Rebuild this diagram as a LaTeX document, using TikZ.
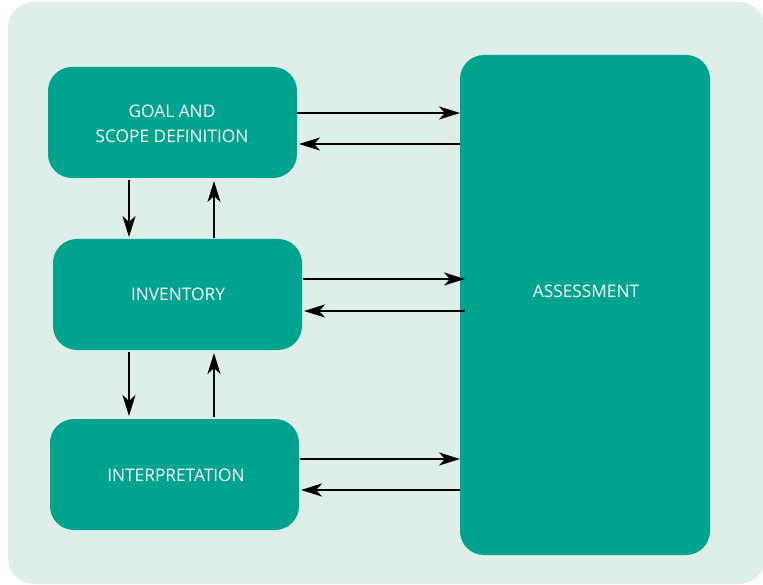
\documentclass[tikz,border=0pt]{standalone}
\usepackage{fontspec}
\setmainfont{Open Sans}
\usetikzlibrary{arrows.meta}
\definecolor{panel}{RGB}{222,238,232}
\definecolor{teal}{RGB}{0,163,142}
\tikzset{
  stage/.style={fill=teal, rounded corners=24pt},
  label/.style={text=white, align=center, font=\fontsize{17.3}{25}\selectfont},
  flow/.style={line width=2.5pt, -{Stealth[length=21pt,width=13pt,inset=6pt]}},
}
\begin{document}
\begin{tikzpicture}[x=1pt,y=-1pt]
\useasboundingbox (0,0) rectangle (763,585);
% background panel
\fill[panel, rounded corners=26pt] (8,2) rectangle (765,584);
% stages
\path[stage] (48,67) rectangle (297,178);
\node[label] (goal) at (172,124) {GOAL AND\\SCOPE DEFINITION};
\path[stage] (53,239) rectangle (302,350);
\node[label] (inv) at (178,294) {INVENTORY};
\path[stage] (50,419) rectangle (299,530);
\node[label] (interp) at (176,475) {INTERPRETATION};
\path[stage] (460,55) rectangle (710,555);
\node[label] (assess) at (586,291) {ASSESSMENT};
% anchor points on box edges
\coordinate (g1) at (297,113); \coordinate (a1) at (460,113);
\coordinate (a2) at (460,144); \coordinate (g2) at (299,144);
\coordinate (i1) at (303,279); \coordinate (a3) at (465,279);
\coordinate (a4) at (465,311); \coordinate (i2) at (304,311);
\coordinate (p1) at (300,459); \coordinate (a5) at (460,459);
\coordinate (a6) at (460,490); \coordinate (p2) at (301,490);
\coordinate (gd) at (129,180); \coordinate (id) at (129,237);
\coordinate (iu) at (214,238); \coordinate (gu) at (214,181);
\coordinate (id2) at (129,352); \coordinate (pd) at (129,416);
\coordinate (pu) at (214,417); \coordinate (iu2) at (214,353);
% connectors
\draw[flow] (g1) -- (a1);
\draw[flow] (a2) -- (g2);
\draw[flow] (i1) -- (a3);
\draw[flow] (a4) -- (i2);
\draw[flow] (p1) -- (a5);
\draw[flow] (a6) -- (p2);
\draw[flow] (gd) -- (id);
\draw[flow] (iu) -- (gu);
\draw[flow] (id2) -- (pd);
\draw[flow] (pu) -- (iu2);
\end{tikzpicture}
\end{document}
